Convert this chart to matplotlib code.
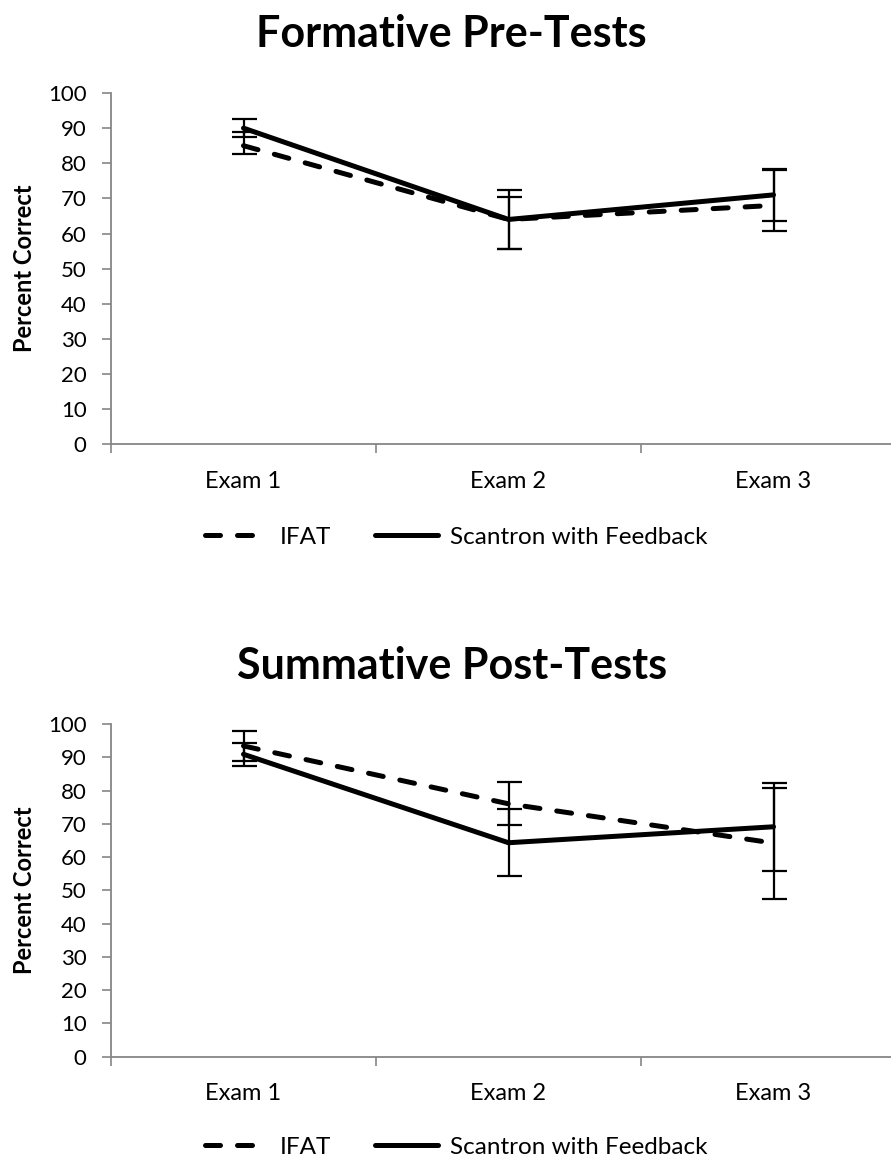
import numpy as np
import matplotlib.pyplot as plt

plt.rcParams['font.family'] = ['Lato', 'DejaVu Sans']

exams = ["Exam 1", "Exam 2", "Exam 3"]
series = ["IFAT", "Scantron with Feedback"]

# formative pre-tests
pre_ifat = [85, 64, 68]
pre_ifat_plus = [4, 6.3, 10.1]
pre_ifat_minus = [2.5, 8.5, 7.3]
pre_scan = [90, 64, 71]
pre_scan_err = [2.5, 8.5, 7.3]

# summative post-tests
post_ifat = [93.4, 76, 64.2]
post_ifat_err = [4.5, 6.5, 16.7]
post_scan = [90.9, 64.3, 69.1]
post_scan_err = [3.4, 10, 13.2]

W, H = 891, 1159
fig = plt.figure(figsize=(W / 100, H / 100), dpi=100)

gray = "#868686"


def draw(rect, title, title_y, legend_y, ifat, ifat_err, scan, scan_err):
    ax = fig.add_axes(rect)
    x = np.arange(1, len(exams) + 1)
    ax.errorbar(x, ifat, yerr=ifat_err, fmt="none", ecolor="black",
                elinewidth=1.6, capsize=9, capthick=1.6, zorder=2)
    ax.errorbar(x, scan, yerr=scan_err, fmt="none", ecolor="black",
                elinewidth=1.6, capsize=9, capthick=1.6, zorder=2)
    l1, = ax.plot(x, ifat, color="black", lw=3.6, dashes=(3, 3.4),
                  dash_capstyle="round", solid_joinstyle="round", zorder=3)
    l2, = ax.plot(x, scan, color="black", lw=3.6, solid_capstyle="round",
                  solid_joinstyle="round", zorder=3)
    ax.set_xlim(0.5, 3.5)
    ax.set_ylim(0, 100)
    ax.set_yticks(np.arange(0, 101, 10))
    ax.set_xticks(x)
    ax.set_xticklabels(exams, fontsize=17)
    ax.set_xticks([0.5, 1.5, 2.5, 3.5], minor=True)
    ax.tick_params(axis="x", which="major", length=0, pad=19)
    ax.tick_params(axis="x", which="minor", length=6.5, color=gray, width=1.2)
    ax.tick_params(axis="y", length=6.5, color=gray, width=1.2, pad=11,
                   labelsize=16)
    for s in ["top", "right"]:
        ax.spines[s].set_visible(False)
    for s in ["left", "bottom"]:
        ax.spines[s].set_color(gray)
        ax.spines[s].set_linewidth(1.3)
    ax.set_ylabel("Percent Correct", fontsize=17, fontweight="bold", labelpad=9)
    fig.text(0.507, title_y, title, ha="center", va="baseline",
             fontsize=31, fontweight="bold")
    fig.legend([l1, l2], series, loc="center", bbox_to_anchor=(0.512, legend_y),
               ncol=2, frameon=False, fontsize=17.5, handlelength=2.6,
               handletextpad=0.5, columnspacing=1.8)
    return ax


draw([111 / W, 1 - 444.3 / H, 795 / W, 351.3 / H], "Formative Pre-Tests",
     1 - 47 / H, 1 - 537 / H, pre_ifat, [pre_ifat_minus, pre_ifat_plus],
     pre_scan, pre_scan_err)
draw([111 / W, 1 - 1056.6 / H, 795 / W, 332.6 / H], "Summative Post-Tests",
     1 - 679 / H, 1 - 1147 / H, post_ifat, post_ifat_err,
     post_scan, post_scan_err)

fig.savefig("out.png", dpi=100)
